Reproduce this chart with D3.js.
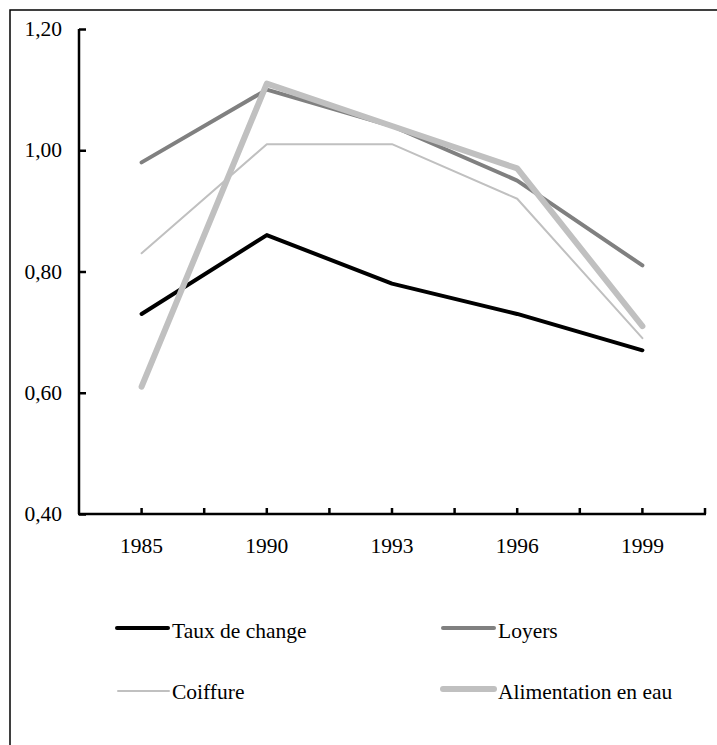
<!DOCTYPE html>
<html>
<head>
<meta charset="utf-8">
<script src="https://cdn.jsdelivr.net/npm/d3@7"></script>
<style>
  html, body { margin: 0; padding: 0; background: #fff; }
  svg { display: block; }
  svg text { font-family: "Liberation Serif", "Times New Roman", Times, serif; }
</style>
</head>
<body>
<script>
const years = ["1985", "1990", "1993", "1996", "1999"];
const tauxDeChange = [0.73, 0.86, 0.78, 0.73, 0.67];
const loyers = [0.98, 1.10, 1.04, 0.95, 0.81];
const coiffure = [0.83, 1.01, 1.01, 0.92, 0.69];
const alimentationEnEau = [0.61, 1.11, 1.04, 0.97, 0.71];
const yTicks = [0.40, 0.60, 0.80, 1.00, 1.20];
const seriesNames = ["Taux de change", "Loyers", "Coiffure", "Alimentation en eau"];

const series = [
  { name: seriesNames[0], values: tauxDeChange, color: "#000000", width: 4 },
  { name: seriesNames[1], values: loyers, color: "#808080", width: 4 },
  { name: seriesNames[2], values: coiffure, color: "#c0c0c0", width: 2 },
  { name: seriesNames[3], values: alimentationEnEau, color: "#c0c0c0", width: 6 }
];

const W = 717, H = 745;
const fs = 21.5;

const svg = d3.select("body").append("svg").attr("width", W).attr("height", H);

// outer border
svg.append("rect").attr("x", 10).attr("y", 10).attr("width", W + 10).attr("height", H + 10)
  .attr("fill", "none").attr("stroke", "#000").attr("stroke-width", 1.5);

const x0 = 79, x1 = 705, yTop = 29, yBot = 514;
const x = d3.scaleBand().domain(years).range([x0, x1]).padding(0);
const y = d3.scaleLinear().domain([0.40, 1.20]).range([yBot, yTop]);

// y axis
const ya = svg.append("g").attr("transform", `translate(${x0},0)`)
  .call(d3.axisRight(y).tickValues(yTicks).tickSize(7).tickFormat(""));
ya.select(".domain").attr("stroke", "#000").attr("stroke-width", 2.5)
  .attr("d", `M0,${yTop}V${yBot}`);
ya.selectAll(".tick line").attr("stroke", "#000").attr("stroke-width", 2.5);
const fmt = d => d3.format(".2f")(d).replace(".", ",");
svg.append("g").selectAll("text").data(yTicks).join("text")
  .attr("x", 62).attr("y", d => y(d)).attr("dy", "0.33em")
  .attr("text-anchor", "end").attr("font-size", fs)
  .attr("fill", "#000").text(fmt);

// x axis
const halfTicks = [];
years.forEach(yr => { halfTicks.push(x(yr)); halfTicks.push(x(yr) + x.bandwidth() / 2); });
halfTicks.push(x1);
const xa = svg.append("g");
xa.append("line").attr("x1", x0 - 1).attr("x2", x1 + 1).attr("y1", yBot).attr("y2", yBot)
  .attr("stroke", "#000").attr("stroke-width", 2.5);
xa.selectAll("line.t").data(halfTicks.slice(1)).join("line").attr("class", "t")
  .attr("x1", d => d).attr("x2", d => d).attr("y1", yBot).attr("y2", yBot - 6)
  .attr("stroke", "#000").attr("stroke-width", 2.5);
xa.selectAll("text").data(years).join("text")
  .attr("x", d => x(d) + x.bandwidth() / 2).attr("y", 553)
  .attr("text-anchor", "middle").attr("font-size", fs)
  .attr("fill", "#000").text(d => d);

// lines
const line = d3.line().x((d, i) => x(years[i]) + x.bandwidth() / 2).y(d => y(d));
svg.append("g").selectAll("path").data(series).join("path")
  .attr("d", d => line(d.values)).attr("fill", "none")
  .attr("stroke", d => d.color).attr("stroke-width", d => d.width)
  .attr("stroke-linecap", "round").attr("stroke-linejoin", "round");

// legend
const legPos = [
  { lx: 117, ly: 628, tx: 172, ty: 638 },
  { lx: 443, ly: 628, tx: 498, ty: 638 },
  { lx: 118, ly: 691, tx: 172, ty: 699 },
  { lx: 443, ly: 689, tx: 498, ty: 699 }
];
const lg = svg.append("g");
series.forEach((s, i) => {
  const p = legPos[i];
  lg.append("line").attr("x1", p.lx).attr("x2", p.lx + 51).attr("y1", p.ly).attr("y2", p.ly)
    .attr("stroke", s.color).attr("stroke-width", s.width).attr("stroke-linecap", "round");
  lg.append("text").attr("x", p.tx).attr("y", p.ty)
    .attr("font-size", fs).attr("fill", "#000").text(s.name);
});
</script>
</body>
</html>
